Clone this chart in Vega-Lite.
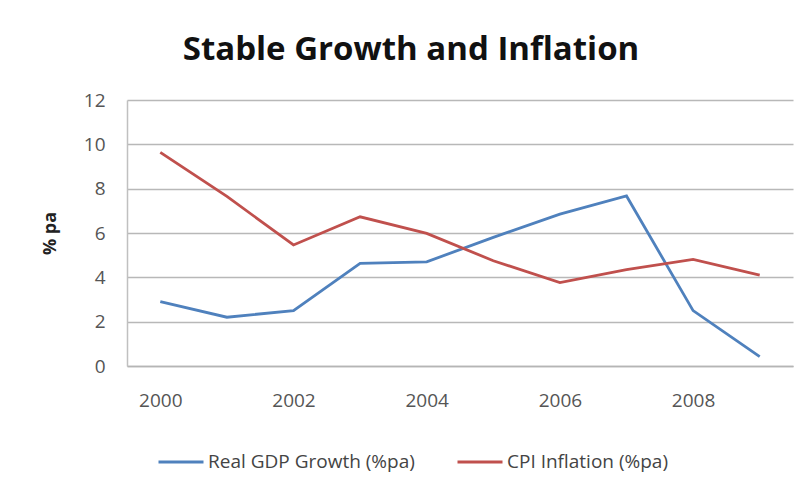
{
  "$schema": "https://vega.github.io/schema/vega-lite/v6.json",
  "autosize": {"type": "none"},
  "width": 666,
  "height": 266,
  "padding": {"left": 127, "top": 100, "right": 11, "bottom": 121},
  "background": "white",
  "title": {
    "text": "Stable Growth and Inflation",
    "font": "Open Sans",
    "fontSize": 33,
    "fontWeight": "bold",
    "color": "#111111",
    "anchor": "middle",
    "offset": 24,
    "dx": -49
  },
  "data": {
    "values": [
      {"year": "2000", "series": "Real GDP Growth (%pa)", "value": 2.9},
      {"year": "2001", "series": "Real GDP Growth (%pa)", "value": 2.2},
      {"year": "2002", "series": "Real GDP Growth (%pa)", "value": 2.5},
      {"year": "2003", "series": "Real GDP Growth (%pa)", "value": 4.63},
      {"year": "2004", "series": "Real GDP Growth (%pa)", "value": 4.7},
      {"year": "2005", "series": "Real GDP Growth (%pa)", "value": 5.8},
      {"year": "2006", "series": "Real GDP Growth (%pa)", "value": 6.85},
      {"year": "2007", "series": "Real GDP Growth (%pa)", "value": 7.67},
      {"year": "2008", "series": "Real GDP Growth (%pa)", "value": 2.5},
      {"year": "2009", "series": "Real GDP Growth (%pa)", "value": 0.42},
      {"year": "2000", "series": "CPI Inflation (%pa)", "value": 9.64},
      {"year": "2001", "series": "CPI Inflation (%pa)", "value": 7.65},
      {"year": "2002", "series": "CPI Inflation (%pa)", "value": 5.46},
      {"year": "2003", "series": "CPI Inflation (%pa)", "value": 6.73},
      {"year": "2004", "series": "CPI Inflation (%pa)", "value": 5.98},
      {"year": "2005", "series": "CPI Inflation (%pa)", "value": 4.75},
      {"year": "2006", "series": "CPI Inflation (%pa)", "value": 3.76},
      {"year": "2007", "series": "CPI Inflation (%pa)", "value": 4.35},
      {"year": "2008", "series": "CPI Inflation (%pa)", "value": 4.81},
      {"year": "2009", "series": "CPI Inflation (%pa)", "value": 4.1}
    ]
  },
  "mark": {"type": "line", "strokeWidth": 2.8},
  "encoding": {
    "x": {
      "field": "year",
      "type": "ordinal",
      "scale": {"padding": 0.5},
      "axis": {
        "title": null,
        "labelAngle": 0,
        "labelExpr": "(parseInt(datum.value) % 2 == 0) ? datum.value : ''",
        "ticks": false,
        "labelPadding": 25,
        "labelFont": "Open Sans",
        "labelFontSize": 19,
        "labelColor": "#555555",
        "domainColor": "#b5b5b5",
        "domainWidth": 1.5,
        "grid": false
      }
    },
    "y": {
      "field": "value",
      "type": "quantitative",
      "scale": {"domain": [0, 12], "nice": false},
      "axis": {
        "title": "% pa",
        "titleFont": "Open Sans",
        "titleFontSize": 18,
        "titleFontWeight": "bold",
        "titleColor": "#222222",
        "titlePadding": 24,
        "values": [0, 2, 4, 6, 8, 10, 12],
        "ticks": false,
        "labelPadding": 22,
        "labelFont": "Open Sans",
        "labelFontSize": 19,
        "labelColor": "#555555",
        "domainColor": "#c0c0c0",
        "domainWidth": 1.5,
        "gridColor": "#b8b8b8",
        "gridWidth": 1.5
      }
    },
    "color": {
      "field": "series",
      "type": "nominal",
      "scale": {
        "domain": ["Real GDP Growth (%pa)", "CPI Inflation (%pa)"],
        "range": ["#4F81BD", "#C0504D"]
      },
      "legend": {
        "title": null,
        "orient": "none",
        "direction": "horizontal",
        "legendX": 30,
        "legendY": 338,
        "symbolType": "stroke",
        "symbolSize": 2025,
        "symbolStrokeWidth": 3,
        "labelFont": "Open Sans",
        "labelFontSize": 19,
        "labelColor": "#444444",
        "labelOffset": 3,
        "columnPadding": 36,
        "labelLimit": 300
      }
    }
  },
  "config": {
    "view": {"stroke": null}
  }
}
